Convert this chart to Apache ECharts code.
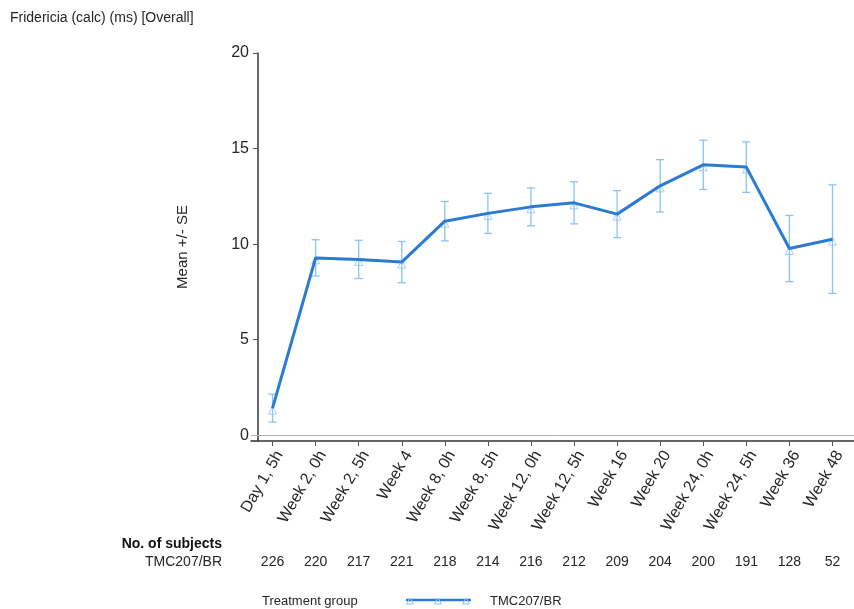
<!DOCTYPE html>
<html>
<head>
<meta charset="utf-8">
<script src="https://cdn.jsdelivr.net/npm/echarts@6/dist/echarts.min.js"></script>
<style>
  html, body { margin: 0; padding: 0; background: #fff; }
  #chart { width: 854px; height: 609px; }
</style>
</head>
<body>
<div id="chart"></div>
<script>
// Visits along the x axis
const visits = ['Day 1, 5h', 'Week 2, 0h', 'Week 2, 5h', 'Week 4', 'Week 8, 0h', 'Week 8, 5h',
  'Week 12, 0h', 'Week 12, 5h', 'Week 16', 'Week 20', 'Week 24, 0h', 'Week 24, 5h', 'Week 36', 'Week 48'];
// Mean change in Fridericia QTc (ms)
const meanValues = [1.42, 9.28, 9.20, 9.06, 11.20, 11.61, 11.95, 12.16, 11.57, 13.05, 14.15, 14.03, 9.77, 10.26];
// Standard error of the mean
const seValues = [0.73, 0.95, 1.00, 1.08, 1.03, 1.05, 0.99, 1.10, 1.23, 1.37, 1.29, 1.32, 1.73, 2.84];
// Number of subjects at each visit
const subjects = [226, 220, 217, 221, 218, 214, 216, 212, 209, 204, 200, 191, 128, 52];
const yTicks = [0, 5, 10, 15, 20];

const FONT = 'Liberation Sans, Arial, sans-serif';
const LINE_COLOR = '#2b7bd6';
const BAR_COLOR = '#8cc3ee';
const TEXT_COLOR = '#262626';

const chart = echarts.init(document.getElementById('chart'), null, { renderer: 'canvas' });

const errorData = meanValues.map((m, i) => [i, m - seValues[i], m + seValues[i]]);

function renderErrorBar(params, api) {
  const idx = api.value(0);
  const lo = api.coord([idx, api.value(1)]);
  const hi = api.coord([idx, api.value(2)]);
  const half = 4;
  const style = { stroke: BAR_COLOR, lineWidth: 1.3, fill: null };
  return {
    type: 'group',
    children: [
      { type: 'line', shape: { x1: hi[0], y1: hi[1], x2: lo[0], y2: lo[1] }, style },
      { type: 'line', shape: { x1: hi[0] - half, y1: hi[1], x2: hi[0] + half, y2: hi[1] }, style },
      { type: 'line', shape: { x1: lo[0] - half, y1: lo[1], x2: lo[0] + half, y2: lo[1] }, style }
    ]
  };
}

const option = {
  backgroundColor: '#fff',
  animation: false,
  textStyle: { fontFamily: FONT },
  title: {
    text: 'Fridericia (calc) (ms) [Overall]',
    left: 5,
    top: 6,
    textStyle: { fontSize: 14, fontWeight: 'normal', color: TEXT_COLOR, fontFamily: FONT }
  },
  grid: { left: 251, right: -10, top: 53, bottom: 168, containLabel: false },
  xAxis: [
    {
      type: 'category',
      data: visits,
      boundaryGap: true,
      axisLine: { show: true, onZero: false, lineStyle: { color: '#333', width: 1.5 } },
      axisTick: { show: true, alignWithLabel: true, length: 5, lineStyle: { color: '#555' } },
      axisLabel: {
        rotate: 60, fontSize: 16, color: TEXT_COLOR, fontFamily: FONT, margin: 7, interval: 0,
        verticalAlign: 'top'
      },
      splitLine: { show: false }
    },
    {
      type: 'category',
      data: visits,
      boundaryGap: true,
      position: 'bottom',
      offset: 106,
      axisLine: { show: false, onZero: false },
      axisTick: { show: false },
      axisLabel: {
        fontSize: 14, color: TEXT_COLOR, fontFamily: FONT, margin: 8, interval: 0,
        formatter: (v, i) => String(subjects[i])
      },
      splitLine: { show: false }
    }
  ],
  yAxis: {
    type: 'value',
    min: -0.3,
    max: yTicks[yTicks.length - 1],
    splitNumber: yTicks.length - 1,
    offset: -7,
    name: 'Mean +/- SE',
    nameLocation: 'middle',
    nameGap: 68,
    nameRotate: 90,
    nameTextStyle: { fontSize: 15, color: TEXT_COLOR, fontFamily: FONT },
    axisLine: { show: true, lineStyle: { color: '#333', width: 1.5 } },
    axisTick: { show: true, length: 5, lineStyle: { color: '#555' } },
    axisLabel: {
      fontSize: 16, color: TEXT_COLOR, fontFamily: FONT, margin: 9,
      formatter: v => (v < -0.01 ? '' : String(Math.round(v)))
    },
    splitLine: { show: false }
  },
  graphic: [
    {
      type: 'text', right: 854 - 222, top: 537,
      style: { text: 'No. of subjects', font: 'bold 14px ' + FONT, fill: '#111', textAlign: 'right' }
    },
    {
      type: 'text', right: 854 - 222, top: 555,
      style: { text: 'TMC207/BR', font: '14px ' + FONT, fill: TEXT_COLOR, textAlign: 'right' }
    },
    {
      type: 'text', left: 262, top: 595,
      style: { text: 'Treatment group', font: '13px ' + FONT, fill: TEXT_COLOR }
    },
    {
      type: 'line', shape: { x1: 406, y1: 600, x2: 471, y2: 600 },
      style: { stroke: LINE_COLOR, lineWidth: 2.5 }
    },
    { type: 'polygon', shape: { points: [[410, 598], [406.5, 604], [413.5, 604]] }, style: { fill: 'none', stroke: BAR_COLOR, lineWidth: 1 } },
    { type: 'polygon', shape: { points: [[438, 598], [434.5, 604], [441.5, 604]] }, style: { fill: 'none', stroke: BAR_COLOR, lineWidth: 1 } },
    { type: 'polygon', shape: { points: [[466, 598], [462.5, 604], [469.5, 604]] }, style: { fill: 'none', stroke: BAR_COLOR, lineWidth: 1 } },
    {
      type: 'text', left: 490, top: 595,
      style: { text: 'TMC207/BR', font: '13px ' + FONT, fill: TEXT_COLOR }
    }
  ],
  series: [
    {
      name: 'SE',
      type: 'custom',
      renderItem: renderErrorBar,
      data: errorData,
      encode: { x: 0, y: [1, 2] },
      z: 1,
      silent: true
    },
    {
      name: 'markers',
      type: 'scatter',
      data: meanValues.map((m, i) => [i, m]),
      symbol: 'triangle',
      symbolSize: 8,
      symbolOffset: [0, 2],
      itemStyle: { color: 'rgba(255,255,255,0)', borderColor: BAR_COLOR, borderWidth: 1 },
      z: 2,
      silent: true
    },
    {
      name: 'TMC207/BR',
      type: 'line',
      data: meanValues,
      showSymbol: false,
      symbol: 'none',
      lineStyle: { color: LINE_COLOR, width: 3 },
      z: 3,
      silent: true,
      markLine: {
        silent: true,
        symbol: ['none', 'none'],
        label: { show: false },
        animation: false,
        lineStyle: { color: '#b0b0b0', width: 1, type: 'solid' },
        data: [{ yAxis: 0 }]
      }
    }
  ]
};

chart.setOption(option);
</script>
</body>
</html>
